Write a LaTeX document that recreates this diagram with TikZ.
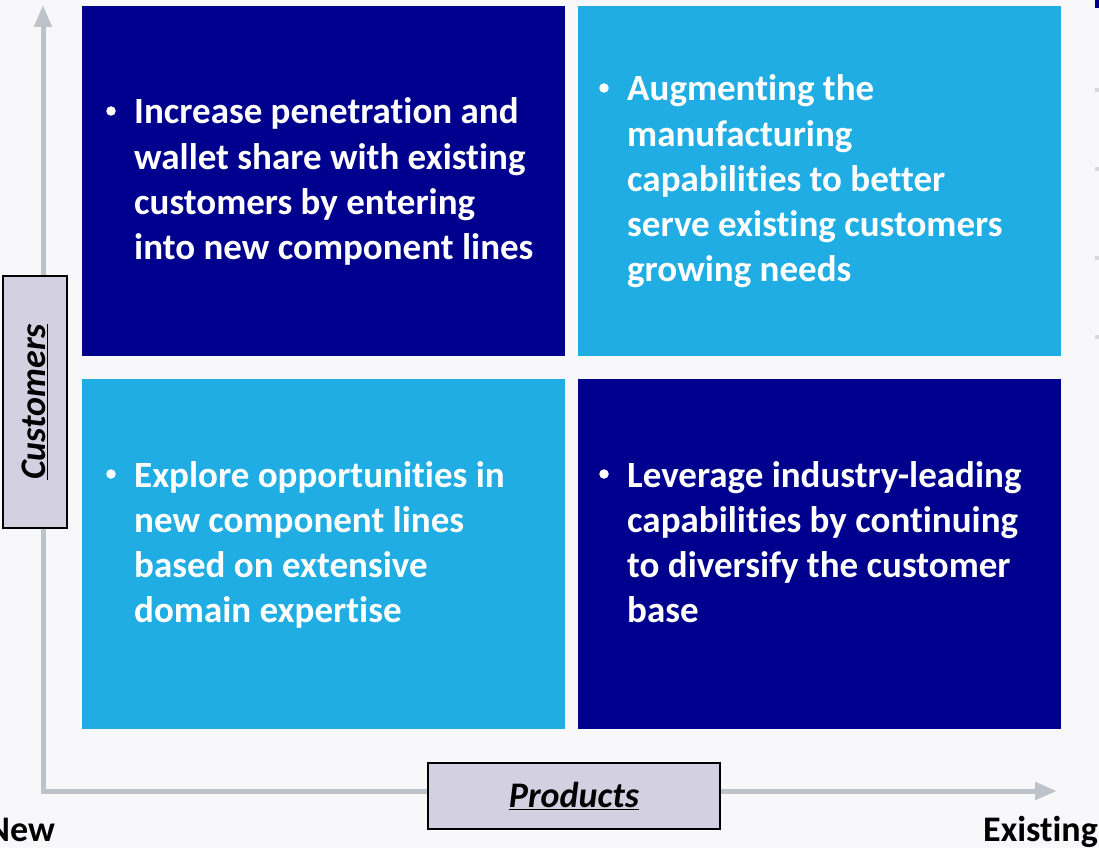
\documentclass[tikz,border=0pt]{standalone}
\usepackage{fontspec}
\setmainfont{Carlito}[Ligatures=NoCommon]
\usetikzlibrary{arrows.meta}
\definecolor{bgc}{HTML}{F8F8FB}
\definecolor{dblue}{HTML}{00008E}
\definecolor{lblue}{HTML}{1FADE4}
\definecolor{axisc}{HTML}{BDC3C8}
\definecolor{labfill}{HTML}{D3D0E1}
\definecolor{markc}{HTML}{D8D8DC}
\tikzset{
  quad/.style={draw=none, inner sep=0pt, minimum width=483pt, minimum height=350pt, anchor=north west},
  dq/.style={quad, fill=dblue},
  lq/.style={quad, fill=lblue},
  qtext/.style={anchor=base west, inner sep=0pt, text=white, font=\fontsize{37}{45}\selectfont\bfseries},
  bulletdot/.style={circle, fill=white, inner sep=0pt, minimum size=9.5pt},
  axislabel/.style={draw=black, line width=2pt, fill=labfill, inner sep=0pt, font=\fontsize{36}{40}\selectfont\bfseries\itshape},
  endlabel/.style={inner sep=0pt, font=\fontsize{36}{40}\selectfont\bfseries},
  axisline/.style={draw=axisc, line width=5pt, {Triangle[width=17pt,length=22pt]}-{Triangle[width=17pt,length=22pt]}}
}
\newcommand{\qlines}[1]{\parbox[t]{440pt}{\raggedright #1}}
\begin{document}
\begin{tikzpicture}[x=1pt,y=-1pt]
\useasboundingbox (0,0) rectangle (1099,848);
\fill[bgc] (0,0) rectangle (1099,848);
% axes
\coordinate (ytip) at (43,5);
\coordinate (xtip) at (1057,791);
\draw[axisline] (ytip) |- (xtip);
% quadrants
\node[dq] (q1) at (82,6) {};
\node[lq] (q2) at (578,6) {};
\node[lq] (q3) at (82,379) {};
\node[dq] (q4) at (578,379) {};
% bullets
\node[bulletdot] (b1) at (111,111) {};
\node[bulletdot] (b2) at (604,88) {};
\node[bulletdot] (b3) at (111,474) {};
\node[bulletdot] (b4) at (604,474) {};
% texts
\node[qtext] (t1) at (134,124) {\qlines{Increase penetration and\\wallet share with existing\\customers by entering\\into new component lines}};
\node[qtext] (t2) at (627,101) {\qlines{Augmenting the\\manufacturing\\capabilities to better\\serve existing customers\\growing needs}};
\node[qtext] (t3) at (134,487) {\qlines{Explore opportunities in\\new component lines\\based on extensive\\domain expertise}};
\node[qtext] (t4) at (627,487) {\qlines{Leverage industry-leading\\capabilities by continuing\\to diversify the customer\\base}};
% axis labels
\node[axislabel, minimum width=252pt, minimum height=64pt, rotate=90] (cust) at (35,402) {\underline{Customers}};
\node[axislabel, minimum width=292pt, minimum height=66pt] (prod) at (574,796) {\underline{Products}};
\node[endlabel, anchor=base east] (new) at (55,841) {New};
\node[endlabel, anchor=base west] (exist) at (983,841) {Existing};
% right-edge fragments
\fill[dblue] (1095,0) rectangle (1099,8);
\foreach \yy in {88,167,256,335} \fill[markc] (1095,\yy) rectangle (1099,\yy+4);
\end{tikzpicture}
\end{document}
